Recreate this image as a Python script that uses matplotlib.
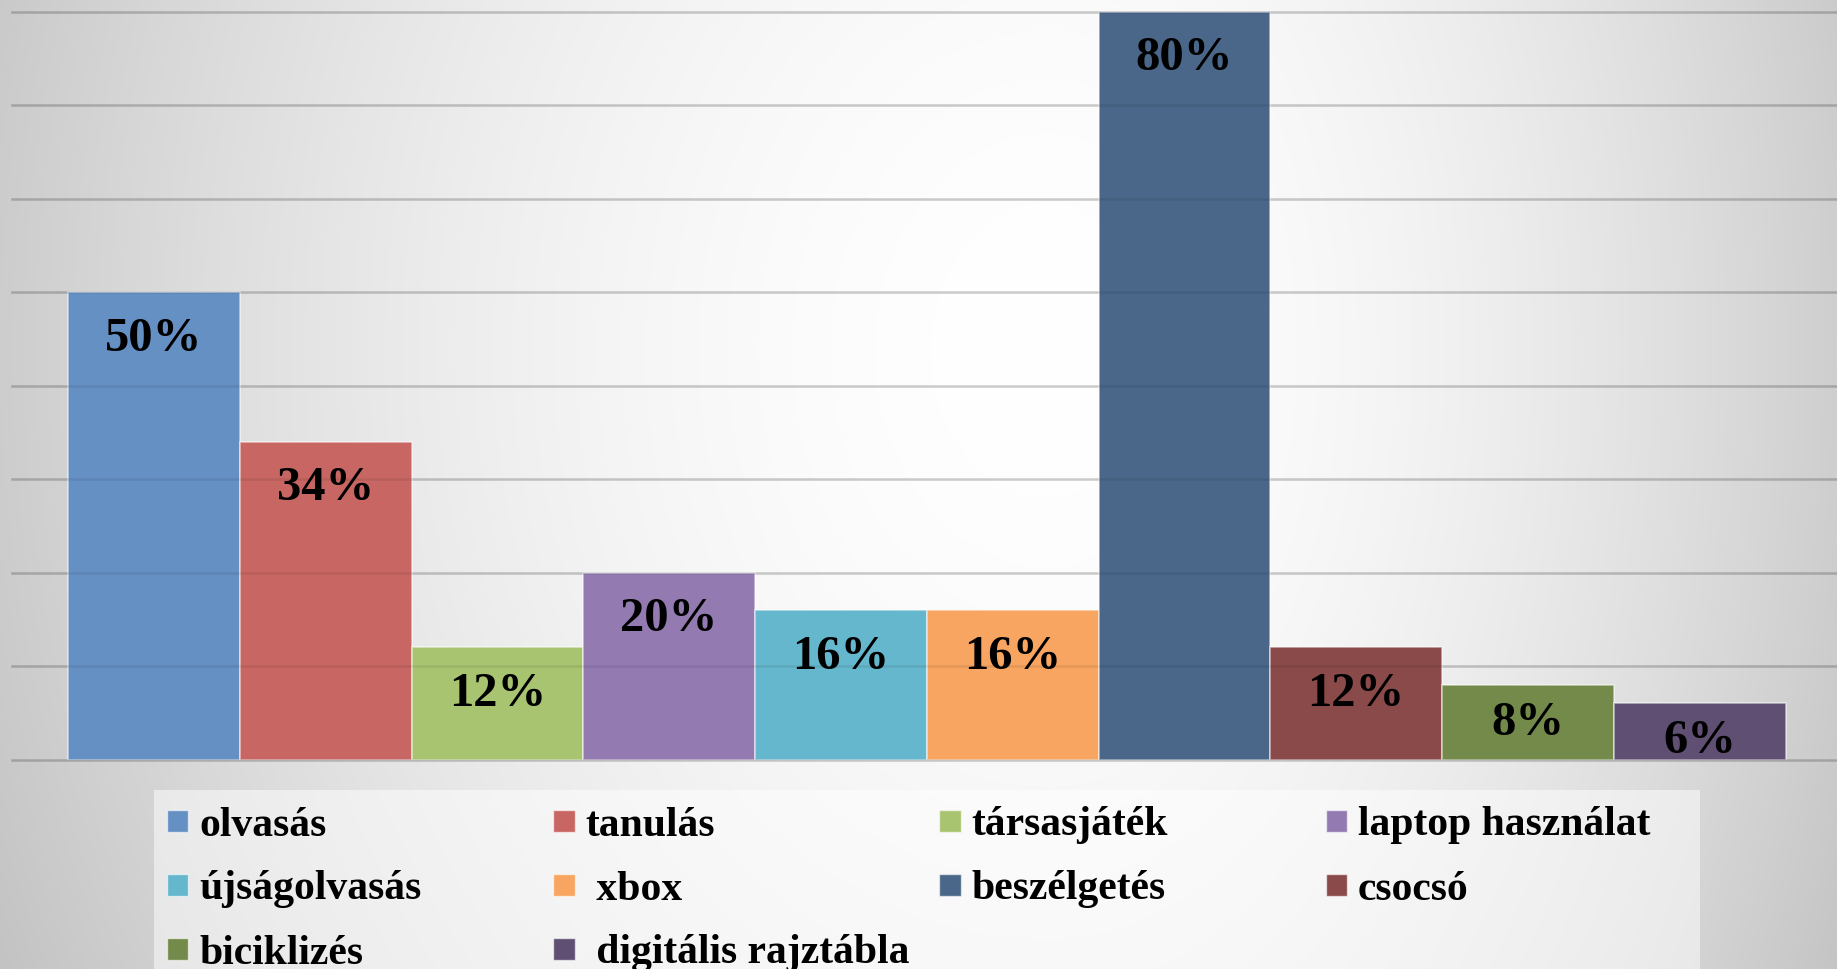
import numpy as np
import matplotlib
matplotlib.use("Agg")
import matplotlib.pyplot as plt
from matplotlib.patches import Rectangle

# ---------------- data ----------------
categories = ["olvasás", "tanulás", "társasjáték", "laptop használat",
              "újságolvasás", " xbox", "beszélgetés", "csocsó",
              "biciklizés", " digitális rajztábla"]
values = [50, 34, 12, 20, 16, 16, 80, 12, 8, 6]
colors = ["#6590C4", "#C86663", "#A9C470", "#937BB1", "#65B7CE",
          "#F7A560", "#4A6789", "#8A4A49", "#738A4A", "#5F5073"]
gridticks = [0, 10, 20, 30, 40, 50, 60, 70, 80]

FONT = ["Liberation Serif", "DejaVu Serif"]

W, H = 1837, 969
fig = plt.figure(figsize=(W / 100, H / 100), dpi=100)

# ---------------- background gradient ----------------
bg = fig.add_axes([0, 0, 1, 1], zorder=0)
yy, xx = np.mgrid[0:H, 0:W].astype(float)
cx, cy = 1050.0, 350.0
dxn = np.where(xx < cx, (xx - cx) / 1050.0, (xx - cx) / 800.0)
dyn = (yy - cy) / 1300.0
u2 = dxn ** 2 + dyn ** 2
g = 255 - 50 * np.clip(u2, 0, 1.4) ** 0.9
img = np.dstack([g, g, g]) / 255.0
bg.imshow(np.clip(img, 0, 1), extent=[0, W, H, 0], aspect="auto")
bg.set_xlim(0, W)
bg.set_ylim(H, 0)
bg.axis("off")

# ---------------- main axes ----------------
left_px, right_px = 11.7, 1837.0
top_px, base_px = 11.7, 759.5
ax = fig.add_axes([left_px / W, (H - base_px) / H,
                   (right_px - left_px) / W, (base_px - top_px) / H], zorder=1)
ax.patch.set_alpha(0)
bar_left_px, bar_right_px = 68.0, 1785.5
unit = (bar_right_px - bar_left_px) / len(values)
ax.set_xlim(-0.5 - (bar_left_px - left_px) / unit,
            len(values) - 0.5 + (right_px - bar_right_px) / unit)
ax.set_ylim(0, 80)
for s in ax.spines.values():
    s.set_visible(False)
ax.set_xticks([])
ax.set_yticks([])

for t in gridticks:
    ax.axhline(t, color="black", alpha=0.13, lw=1.8, zorder=1, clip_on=False)
    # faint line showing through the bars
    ax.axhline(t, color="black", alpha=0.08, lw=1.8, zorder=2.5, clip_on=False)

x = np.arange(len(values))
ax.bar(x, values, width=1.0, color=colors,
       edgecolor=(1, 1, 1, 0.55), linewidth=1.2, zorder=2)

for xi, v in zip(x, values):
    off = 5.0 if v >= 10 else 4.05
    ax.text(xi, v - off, f"{v}%", ha="center", va="center",
            fontsize=35, fontweight="bold", family=FONT, color="black", zorder=3)

# ---------------- legend ----------------
def fx(px):
    return px / W

def fy(py):
    return 1 - py / H

fig.patches.append(Rectangle((fx(154), fy(975)), fx(1700) - fx(154), fy(790) - fy(975),
                             transform=fig.transFigure, facecolor="white",
                             alpha=0.5, edgecolor="none", zorder=2))
col_x0, col_dx = 166.7, 386.3
row_y0, row_dy = 821.0, 64.0
msz = 21.5
for i, (lab, col) in enumerate(zip(categories, colors)):
    r, c = divmod(i, 4)
    mx = col_x0 + c * col_dx
    my = row_y0 + r * row_dy
    fig.patches.append(Rectangle((fx(mx), fy(my + msz / 2)), fx(msz), msz / H,
                                 transform=fig.transFigure, facecolor=col,
                                 edgecolor=(1, 1, 1, 0.6), linewidth=1.0, zorder=3))
    fig.text(fx(mx + 32.5), fy(my), lab, ha="left", va="center_baseline",
             fontsize=30, fontweight="bold", family=FONT, color="black", zorder=4)

fig.savefig("out.png", dpi=100)
